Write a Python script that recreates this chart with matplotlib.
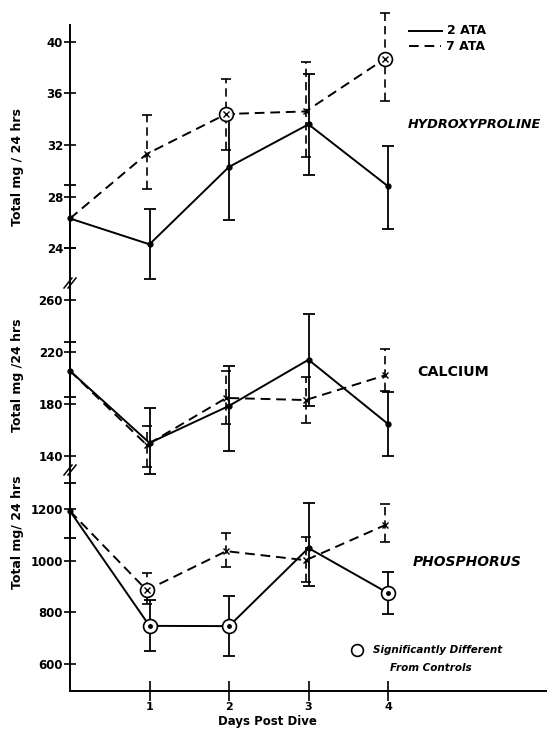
import matplotlib
matplotlib.use("Agg")
import matplotlib.pyplot as plt
from matplotlib.lines import Line2D
import numpy as np

# ---------------- data ----------------
days = [0, 1, 2, 3, 4]
day_ticks = [1, 2, 3, 4]
series_names = ["2 ATA", "7 ATA"]

# Hydroxyproline (mg / 24 h)
hyp_2ata = [26.3, 24.3, 30.3, 33.6, 28.8]
hyp_2ata_hi = [28.9, 27.0, 34.4, 37.5, 31.9]
hyp_2ata_lo = [24.0, 21.6, 26.2, 29.7, 25.5]
hyp_7ata = [26.3, 31.3, 34.4, 34.6, 38.7]
hyp_7ata_hi = [26.3, 34.3, 37.1, 38.4, 42.2]
hyp_7ata_lo = [26.3, 28.6, 31.6, 31.1, 35.4]
hyp_sig_2ata = [False, False, False, False, False]
hyp_sig_7ata = [False, False, True, False, True]
hyp_ticks = [24, 28, 32, 36, 40]

# Calcium (mg / 24 h)
ca_2ata = [205.4, 150.0, 178.5, 214.0, 164.6]
ca_2ata_hi = [227.7, 177.0, 209.0, 249.0, 189.0]
ca_2ata_lo = [185.4, 126.0, 144.0, 178.5, 140.0]
ca_7ata = [205.4, 148.5, 184.6, 183.0, 202.0]
ca_7ata_hi = [205.4, 163.0, 205.0, 201.0, 222.0]
ca_7ata_lo = [205.4, 131.5, 164.6, 165.0, 190.0]
ca_sig_2ata = [False, False, False, False, False]
ca_sig_7ata = [False, False, False, False, False]
ca_ticks = [140, 180, 220, 260]

# Phosphorus (mg / 24 h)
p_2ata = [1192, 748, 747, 1049, 875]
p_2ata_hi = [1300, 848, 863, 1223, 956]
p_2ata_lo = [1087, 650, 631, 902, 793]
p_7ata = [1192, 886, 1037, 1002, 1138]
p_7ata_hi = [1192, 952, 1107, 1091, 1219]
p_7ata_lo = [1192, 832, 975, 917, 1072]
p_sig_2ata = [False, True, True, False, True]
p_sig_7ata = [False, True, False, False, False]
p_ticks = [600, 800, 1000, 1200]

panel_names = ["HYDROXYPROLINE", "CALCIUM", "PHOSPHORUS"]
ylabels = ["Total mg / 24 hrs", "Total mg /24 hrs", "Total mg/ 24 hrs"]
xlabel = "Days Post Dive"
sig_note = ["Significantly Different", "From Controls"]

# ---------------- layout ----------------
W, H = 547, 731
fig = plt.figure(figsize=(W / 100, H / 100), dpi=100)
AX_L, AX_R = 70, 547


def rect(top, bottom):
    return [AX_L / W, 1 - bottom / H, (AX_R - AX_L) / W, (bottom - top) / H]


panels = [
    dict(top=25, bottom=283, ylim=(21.3, 41.3), ticks=hyp_ticks,
         s2=(hyp_2ata, hyp_2ata_lo, hyp_2ata_hi, hyp_sig_2ata),
         s7=(hyp_7ata, hyp_7ata_lo, hyp_7ata_hi, hyp_sig_7ata),
         name_xy=(408, 125), name_fs=9.3, italic=True, lab_y=167),
    dict(top=283, bottom=470, ylim=(129.2, 273.0), ticks=ca_ticks,
         s2=(ca_2ata, ca_2ata_lo, ca_2ata_hi, ca_sig_2ata),
         s7=(ca_7ata, ca_7ata_lo, ca_7ata_hi, ca_sig_7ata),
         name_xy=(417, 372), name_fs=10.3, italic=False, lab_y=375),
    dict(top=470, bottom=691, ylim=(496, 1351), ticks=p_ticks,
         s2=(p_2ata, p_2ata_lo, p_2ata_hi, p_sig_2ata),
         s7=(p_7ata, p_7ata_lo, p_7ata_hi, p_sig_7ata),
         name_xy=(413, 562), name_fs=10.0, italic=True, lab_y=532),
]

FONT = "DejaVu Sans"
DASH = (0, (5, 3))
OFF7 = -0.035  # slight horizontal offset for the 7 ATA bars

for i, p in enumerate(panels):
    ax = fig.add_axes(rect(p["top"], p["bottom"]))
    ax.set_xlim(0, 6.0)
    ax.set_ylim(*p["ylim"])
    ax.patch.set_alpha(0)
    for s in ("top", "right"):
        ax.spines[s].set_visible(False)
    ax.spines["left"].set_linewidth(1.4)
    if i < 2:
        ax.spines["bottom"].set_visible(False)
        ax.set_xticks([])
    else:
        ax.spines["bottom"].set_linewidth(1.4)
        ax.set_xticks(day_ticks)
        ax.set_xticklabels([str(d) for d in day_ticks], fontsize=8,
                           fontweight="bold", family=FONT)
        ax.tick_params(axis="x", direction="inout", length=14, width=1.2, pad=1)
    ax.set_yticks(p["ticks"])
    ax.set_yticklabels([str(t) for t in p["ticks"]], fontsize=8.5,
                       fontweight="bold", family=FONT)
    ax.tick_params(axis="y", direction="inout", length=8, width=1.2, pad=1)

    x = np.array(days, dtype=float)
    # 2 ATA (solid)
    m, lo, hi, sig = p["s2"]
    m = np.array(m, float)
    lo = np.array(lo, float)
    hi = np.array(hi, float)
    ax.errorbar(x, m, yerr=[m - lo, hi - m], fmt="none", ecolor="k",
                elinewidth=1.3, capsize=4, capthick=1.3, clip_on=False, zorder=3)
    ax.plot(x, m, "-", color="k", lw=1.4, marker="o", ms=3.5, clip_on=False,
            zorder=4)
    sx = x[np.array(sig)]
    sy = m[np.array(sig)]
    ax.plot(sx, sy, "o", ms=10, mfc="white", mec="k", mew=1.2, zorder=5,
            clip_on=False)
    ax.plot(sx, sy, "o", ms=2.5, color="k", zorder=6, clip_on=False)

    # 7 ATA (dashed)
    m, lo, hi, sig = p["s7"]
    m = np.array(m, float)
    lo = np.array(lo, float)
    hi = np.array(hi, float)
    x7 = x + np.where(x > 0, OFF7, 0.0)
    has_bar = hi > lo
    eb = ax.errorbar(x7[has_bar], m[has_bar],
                     yerr=[(m - lo)[has_bar], (hi - m)[has_bar]], fmt="none",
                     ecolor="k", elinewidth=1.2, capsize=3.5, capthick=1.2,
                     clip_on=False, zorder=3)
    eb[2][0].set_linestyle(DASH)
    ax.plot(x7, m, color="k", lw=1.4, linestyle=DASH, clip_on=False, zorder=4)
    ax.plot(x7[1:], m[1:], "x", color="k", ms=5, mew=1.0, clip_on=False,
            zorder=4)
    sx = x7[np.array(sig)]
    sy = m[np.array(sig)]
    ax.plot(sx, sy, "o", ms=10, mfc="white", mec="k", mew=1.2, zorder=5,
            clip_on=False)
    ax.plot(sx, sy, "x", ms=5, color="k", mew=1.0, zorder=6, clip_on=False)

    # panel name
    nx, ny = p["name_xy"]
    fig.text(nx / W, 1 - ny / H, panel_names[i], fontsize=p["name_fs"],
             fontweight="bold", style="italic" if p["italic"] else "normal",
             family=FONT, va="center", ha="left")
    # y label
    fig.text(18 / W, 1 - p["lab_y"] / H, ylabels[i], rotation=90, fontsize=9,
             fontweight="bold", family=FONT, va="center", ha="center")

# x label
fig.text(267 / W, 1 - 721 / H, xlabel, fontsize=8.5, fontweight="bold",
         family=FONT, va="center", ha="center")

# axis breaks (//)
for yb in (283, 470):
    for dx in (-2, 2):
        fig.add_artist(Line2D([(AX_L - 4 + dx) / W, (AX_L + 4 + dx) / W],
                              [1 - (yb + 5) / H, 1 - (yb - 5) / H],
                              color="k", lw=1.1, transform=fig.transFigure))

# legend (top right)
fig.add_artist(Line2D([409 / W, 442 / W], [1 - 31 / H, 1 - 31 / H], color="k",
                      lw=1.4, transform=fig.transFigure))
fig.text(447 / W, 1 - 31 / H, series_names[0], fontsize=9, fontweight="bold",
         family=FONT, va="center", ha="left")
fig.add_artist(Line2D([409 / W, 441 / W], [1 - 46 / H, 1 - 46 / H], color="k",
                      lw=1.4, linestyle=DASH, transform=fig.transFigure))
fig.text(446 / W, 1 - 46 / H, series_names[1], fontsize=9, fontweight="bold",
         family=FONT, va="center", ha="left")

# significance note
fig.add_artist(Line2D([357 / W], [1 - 650 / H], marker="o", ms=8.5, mfc="white",
                      mec="k", mew=1.2, transform=fig.transFigure))
fig.text(373 / W, 1 - 650 / H, sig_note[0], fontsize=7.5, fontweight="bold",
         style="italic", family=FONT, va="center", ha="left")
fig.text(390 / W, 1 - 668 / H, sig_note[1], fontsize=7.5, fontweight="bold",
         style="italic", family=FONT, va="center", ha="left")

fig.savefig("out.png", dpi=100)
